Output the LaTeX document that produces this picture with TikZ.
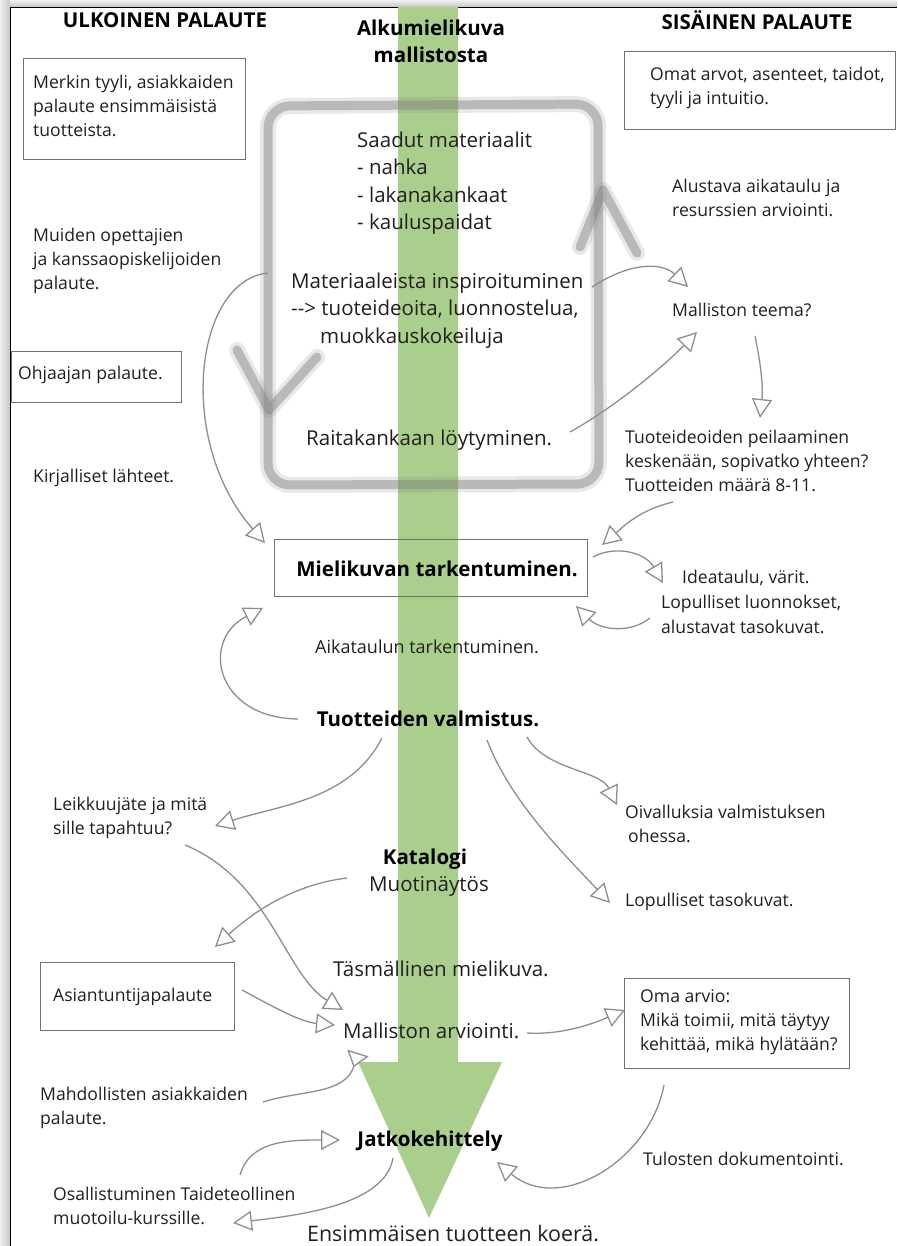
\documentclass[tikz,border=0pt]{standalone}
\usepackage{fontspec}
\setmainfont{Open Sans}
\usetikzlibrary{arrows.meta}
\definecolor{grn}{HTML}{AACF8C}
\definecolor{cn}{HTML}{8E8E8E}
\definecolor{tx}{HTML}{231F20}
\definecolor{bx}{HTML}{707070}
\definecolor{lp}{HTML}{808080}
\newcommand\myfs[2]{\fontsize{#1}{#2}\selectfont}
\begin{document}
\begin{tikzpicture}[x=1pt,y=-1pt,
  txt/.style={inner sep=0pt, text=tx, anchor=west, align=left, font=\myfs{17.6}{24}},
  big/.style={font=\myfs{20.5}{27.5}},
  btxt/.style={inner sep=0pt, text=black, align=center, font=\myfs{20.5}{27}\bfseries},
  boxst/.style={draw=bx, line width=1.2pt, inner sep=0pt, anchor=north west},
  conn/.style={draw=cn, line width=1.3pt,
    -{Triangle[open, length=19pt, width=20pt, line width=1.3pt]}},
  connr/.style={draw=cn, line width=1.3pt,
    -{Triangle[open, reversed, length=15pt, width=22pt, line width=1.3pt]}},
  loopa/.style={draw=lp, line width=16pt, opacity=0.18, line cap=round, line join=round},
  loopb/.style={draw=lp, line width=9pt, opacity=0.45, line cap=round, line join=round}
]
\useasboundingbox (0,0) rectangle (897,1246);
\fill[white] (0,0) rectangle (897,1246);
% frame shadow
\shade[left color=gray!12, right color=gray!45] (0,0) rectangle (10,1246);
\shade[top color=gray!12, bottom color=gray!45] (10,0) rectangle (897,7);
\draw[black, line width=0.9pt] (10,1246) -- (10,7) -- (897,7);

% green arrow
\fill[grn] (398,7) -- (458,7) -- (458,1062) -- (502,1062) -- (429,1218) -- (358,1062) -- (398,1062) -- cycle;

% gray loop
\foreach \s in {loopa,loopb}{
  \draw[\s, rounded corners=22pt] (268,106) -- (598,104) -- (599,484) -- (268,485) -- cycle;
  \draw[\s] (237,350) -- (269,410) -- (317,357);
  \draw[\s] (580,247) -- (603,190) -- (637,253);
}

% headers
\node[btxt] (ulk) at (165,20) {ULKOINEN PALAUTE};
\node[btxt] (sis) at (757,20) {SISÄINEN PALAUTE};
\node[btxt] (alku) at (431,41) {Alkumielikuva\\mallistosta};

% boxes
\node[boxst, minimum width=222pt, minimum height=101pt] (bmerkin) at (23,58) {};
\node[txt] (merkin) at (33,105.5) {Merkin tyyli, asiakkaiden\\palaute ensimmäisistä\\tuotteista.};
\node[boxst, minimum width=271pt, minimum height=78pt] (bomat) at (624,51) {};
\node[txt] (omat) at (650,88) {Omat arvot, asenteet, taidot,\\tyyli ja intuitio.};
\node[boxst, minimum width=170pt, minimum height=51pt] (bohj) at (11,351) {};
\node[txt] (ohj) at (18,375) {Ohjaajan palaute.};
\node[boxst, minimum width=313pt, minimum height=57pt] (bmieli) at (274,539) {};
\node[btxt] (mieli) at (437,569) {Mielikuvan tarkentuminen.};
\node[boxst, minimum width=194pt, minimum height=68pt] (basi) at (40,962) {};
\node[txt] (asi) at (53,997) {Asiantuntijapalaute};
\node[boxst, minimum width=225pt, minimum height=90pt] (boma) at (624,978) {};
\node[txt] (oma) at (640,1022) {Oma arvio:\\Mikä toimii, mitä täytyy\\kehittää, mikä hylätään?};

% left texts
\node[txt] (muiden) at (33,261) {Muiden opettajien\\ja kanssaopiskelijoiden\\palaute.};
\node[txt] (kirj) at (33,478) {Kirjalliset lähteet.};
\node[txt] (leik) at (53,817.5) {Leikkuujäte ja mitä\\sille tapahtuu?};
\node[txt] (mahd) at (40,1107.5) {Mahdollisten asiakkaiden\\palaute.};
\node[txt] (osal) at (53,1205.5) {Osallistuminen Taideteollinen\\muotoilu-kurssille.};

% centre texts
\node[txt, big] (saadut) at (357,183) {Saadut materiaalit\\- nahka\\- lakanakankaat\\- kauluspaidat};
\node[txt, big] (mat) at (291,310.5) {Materiaaleista inspiroituminen\\-{}-> tuoteideoita, luonnostelua,\\\hspace*{29pt}muokkauskokeiluja};
\node[txt, big] (raita) at (306,440) {Raitakankaan löytyminen.};
\node[txt, font=\myfs{18}{24}] (aikat) at (315,647) {Aikataulun tarkentuminen.};
\node[btxt] (tval) at (428,719) {Tuotteiden valmistus.};
\node[btxt] (kat) at (425,859) {Katalogi};
\node[txt, big, anchor=center] (muot) at (429,886) {Muotinäytös};
\node[txt, big] (tasm) at (333,969) {Täsmällinen mielikuva.};
\node[txt, big] (arv) at (343,1031) {Malliston arviointi.};
\node[btxt] (jatko) at (430,1141) {Jatkokehittely};
\node[txt, font=\myfs{21.4}{27}] (ens) at (307,1234) {Ensimmäisen tuotteen koerä.};

% right texts
\node[txt] (alust) at (672,198) {Alustava aikataulu ja\\resurssien arviointi.};
\node[txt] (teema) at (672,310) {Malliston teema?};
\node[txt] (tuoteid) at (625,460.5) {Tuoteideoiden peilaaminen\\keskenään, sopivatko yhteen?\\Tuotteiden määrä 8-11.};
\node[txt, font=\myfs{17.6}{25}] (idea) at (661,602) {\hspace*{21pt}Ideataulu, värit.\\Lopulliset luonnokset,\\alustavat tasokuvat.};
\node[txt] (oiv) at (625,824) {Oivalluksia valmistuksen\\\hspace*{3pt}ohessa.};
\node[txt] (lop) at (625,902) {Lopulliset tasokuvat.};
\node[txt] (tul) at (643,1159) {Tulosten dokumentointi.};

% connector end points
\coordinate (a0) at (268,273);  \coordinate (a1) at (265,543);
\coordinate (b0) at (592,287);  \coordinate (b1) at (688,287);
\coordinate (c0) at (570,432);  \coordinate (c1) at (697,332);
\coordinate (d0) at (755,336);  \coordinate (d1) at (760,418);
\coordinate (e0) at (673,502);  \coordinate (e1) at (602,545);
\coordinate (f0) at (593,557);  \coordinate (f1) at (663,583);
\coordinate (g0) at (650,618);  \coordinate (g1) at (576,606);
\coordinate (h0) at (298,719);  \coordinate (h1) at (263,608);
\coordinate (i0) at (382,738);  \coordinate (i1) at (215,826);
\coordinate (j0) at (487,740);  \coordinate (j1) at (610,903);
\coordinate (k0) at (527,737);  \coordinate (k1) at (617,805);
\coordinate (l0) at (185,845);  \coordinate (l1) at (343,1010);
\coordinate (m0) at (242,990);  \coordinate (m1) at (335,1025);
\coordinate (n0) at (347,878);  \coordinate (n1) at (215,947);
\coordinate (o0) at (263,1102); \coordinate (o1) at (358,1053);
\coordinate (p0) at (527,1033); \coordinate (p1) at (625,1010);
\coordinate (q0) at (664,1085); \coordinate (q1) at (497,1162);
\coordinate (r0) at (240,1175); \coordinate (r1) at (340,1140);
\coordinate (s0) at (393,1158); \coordinate (s1) at (233,1223);

\draw[conn] (a0) .. controls (195,280) and (175,440) .. (a1);
\draw[conn] (b0) .. controls (630,262) and (662,262) .. (b1);
\draw[conn] (c0) .. controls (610,410) and (660,370) .. (c1);
\draw[conn] (d0) .. controls (762,370) and (763,390) .. (d1);
\draw[conn] (e0) .. controls (640,510) and (625,525) .. (e1);
\draw[conn] (f0) .. controls (615,545) and (645,552) .. (f1);
\draw[conn] (g0) .. controls (630,634) and (600,630) .. (g1);
\draw[conn] (h0) .. controls (215,718) and (200,640) .. (h1);
\draw[conn] (i0) .. controls (350,800) and (280,805) .. (i1);
\draw[conn] (j0) .. controls (510,800) and (560,850) .. (j1);
\draw[conn] (k0) .. controls (545,770) and (600,770) .. (k1);
\draw[conn] (l0) .. controls (270,880) and (285,975) .. (l1);
\draw[conn] (m0) .. controls (270,1005) and (300,1022) .. (m1);
\draw[conn] (n0) .. controls (290,885) and (250,915) .. (n1);
\draw[connr] (o0) .. controls (300,1090) and (345,1095) .. (o1);
\draw[conn] (p0) .. controls (560,1035) and (590,1025) .. (p1);
\draw[conn] (q0) .. controls (650,1160) and (560,1215) .. (q1);
\draw[conn] (r0) .. controls (250,1140) and (290,1140) .. (r1);
\draw[conn] (s0) .. controls (385,1205) and (300,1215) .. (s1);
\end{tikzpicture}
\end{document}
